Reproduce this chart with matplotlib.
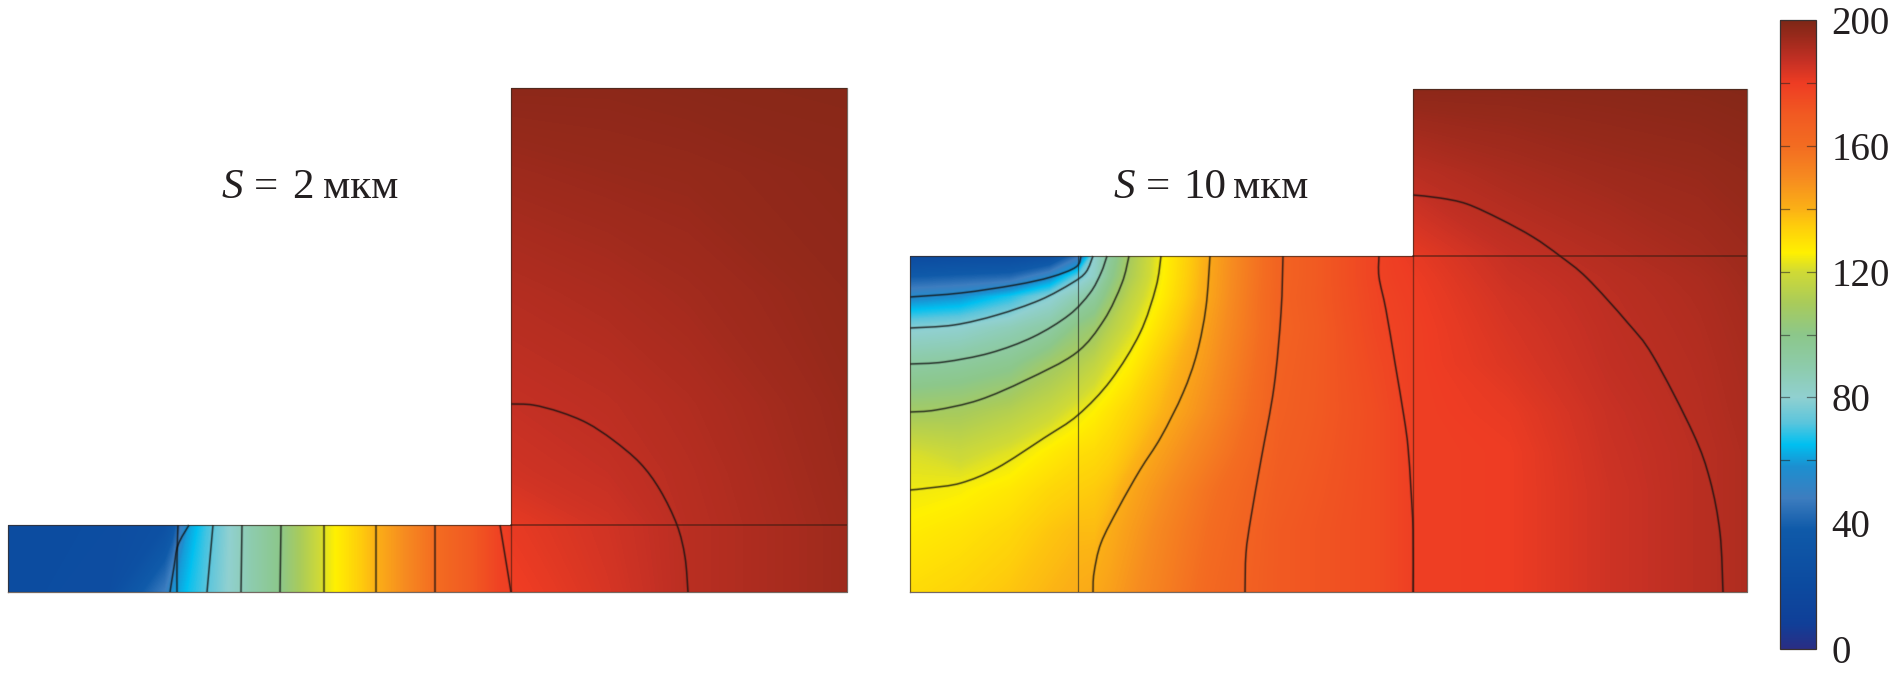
import numpy as np
import matplotlib
matplotlib.use("Agg")
import matplotlib.pyplot as plt
from matplotlib.colors import LinearSegmentedColormap
from matplotlib.path import Path
from matplotlib.patches import PathPatch

W, H = 1892, 673

# colour scale
bar_vals = [0, 8, 20, 38, 48, 58, 65, 72, 80, 90, 100, 110, 120, 126, 135, 140, 150, 160, 170, 180, 187, 195, 200]
bar_cols = ["#2a2d84", "#103f98", "#0c4a9f", "#0f5aa9", "#3d7dbf", "#1c8fd0", "#00c0f0", "#5bc5dc", "#90d0d0",
            "#8dcbaa", "#8cc78a", "#a9cb5a", "#d0da35", "#fff000", "#fecb0c", "#fbb016", "#f68a20", "#f36c21",
            "#f15a22", "#ee3c23", "#c53024", "#98291b", "#7d2716"]
bar_ticks = [0, 40, 80, 120, 160, 200]
bar_marks = [60, 80, 100, 120, 140, 160, 180]

n = np.nan

################ S = 2 ################
x_2 = [0, 102, 157, 165, 181, 199, 205, 233, 272, 316, 368, 427, 492, 503, 600, 680, 839]
y_2 = [0, 67, 120, 188, 300, 420, 504]
t_2 = [
    [22, 24, 48, 58, 66, 72, 74, 85, 100, 122, 140, 160, 178, 179, 184, 189, 194],
    [22, 23, 27, 33, 60, 70, 72, 85, 100, 122, 140, 160, 178, 181, 185, 189, 194],
    [n, n, n, n, n, n, n, n, n, n, n, n, n, 185, 187, 189.5, 194.5],
    [n, n, n, n, n, n, n, n, n, n, n, n, n, 187, 188.5, 190.5, 195],
    [n, n, n, n, n, n, n, n, n, n, n, n, n, 190, 191.5, 193, 196],
    [n, n, n, n, n, n, n, n, n, n, n, n, n, 194, 195, 195.5, 197],
    [n, n, n, n, n, n, n, n, n, n, n, n, n, 197, 197, 197.5, 198],
]
iso_2 = [
    ([162, 166, 170, 181], [0, 25, 47, 67]),
    ([169, 169, 170], [0, 35, 67]),
    ([199, 205], [0, 67]),
    ([233, 234], [0, 67]),
    ([272, 273], [0, 67]),
    ([316, 316], [0, 67]),
    ([368, 368], [0, 67]),
    ([427, 427], [0, 67]),
    ([503, 492], [0, 67]),
    ([503, 525, 552, 579, 605, 632, 652, 669, 677, 680], [188, 187, 180, 169, 152, 129, 102, 67, 35, 0]),
]

################ S = 10 ################
x_10 = [0, 50, 100, 140, 168, 185, 200, 220, 250, 300, 370, 470, 503, 600, 700, 790, 837]
y_10 = [0, 60, 102, 140, 180, 228, 264, 295, 315, 336, 420, 503]
t_10 = [
    [131, 133, 136, 139, 141, 142, 144, 148, 153, 162, 170, 175, 179, 180, 185.5, 189, 191],
    [127, 129, 132, 136, 138, 138, 141, 145, 151, 160, 170, 175, 179, 180, 185.5, 189, 191],
    [124, 125, 128, 132, 134, 135, 137, 142, 148, 158, 169, 175, 179, 180, 185.5, 189, 191],
    [121, 118, 122, 127, 130, 131, 133, 137, 144, 154, 168, 175, 179, 180, 186, 189, 191],
    [108, 109, 113, 118, 123, 126, 129, 133, 139, 150, 167, 175, 179, 181, 186.5, 189.5, 191.5],
    [92, 94, 98, 107, 112, 116, 121, 126, 135, 147, 166, 176, 179, 183, 187.5, 190, 192],
    [78, 80, 86, 92, 102, 106, 113, 120, 130, 145, 165, 177, 179, 184, 188, 190.5, 192.5],
    [55, 58, 67, 78, 88, 94, 104, 115, 126, 143, 165.5, 177.5, 179.5, 185, 188.5, 191, 193],
    [38, 40, 42, 55, 74, 83, 98, 111, 124.5, 142.5, 165, 178, 180, 186, 189, 191.5, 193.5],
    [20, 22, 22, 25, 45, 80, 94, 109, 124, 142, 165, 178, 181, 187, 190, 192.5, 194],
    [n, n, n, n, n, n, n, n, n, n, n, n, 189, 192, 194, 195, 196],
    [n, n, n, n, n, n, n, n, n, n, n, n, 197, 197, 197.5, 198, 198.5],
]
iso_10 = [
    ([0, 51, 105, 141, 166, 171], [295, 299, 307, 315, 325, 336]),
    ([0, 44, 87, 130, 162, 176, 183], [264, 267, 277, 292, 309, 320, 336]),
    ([0, 34, 80, 123, 159, 180, 191, 197], [228, 230, 239, 255, 277, 299, 319, 336]),
    ([0, 26, 69, 116, 166, 194, 212, 219], [180, 182, 192, 212, 239, 272, 309, 336]),
    ([0, 19, 51, 87, 134, 168, 201, 230, 246, 251], [102, 104, 109, 124, 154, 177, 212, 259, 305, 336]),
    ([183, 184, 191, 209, 230, 251, 273, 287, 296, 300], [0, 19, 49, 85, 122, 155, 199, 239, 285, 336]),
    ([335, 336, 341, 351, 364, 371, 373], [0, 39, 75, 132, 205, 279, 336]),
    ([503, 503, 501, 498, 494, 485, 476, 469, 469], [0, 62, 102, 145, 175, 229, 282, 315, 336]),
    ([503, 530, 557, 590, 623, 650, 677, 717, 743, 783, 800, 810, 813],
     [397, 394, 388, 373, 355, 336, 314, 270, 236, 159, 112, 59, 0]),
]

cmap = LinearSegmentedColormap.from_list("temp", [(v / 200, c) for v, c in zip(bar_vals, bar_cols)], N=1024)
levels = np.arange(0, 200.25, 0.25)
norm = plt.Normalize(0, 200)


def px_axes(fig, left, top, right, bottom):
    return fig.add_axes([left / W, 1 - bottom / H, (right - left) / W, (bottom - top) / H])


def smooth_line(ax, ix, iy):
    # courbe lisse qui passe par les points lus (Catmull-Rom -> Bezier)
    p = np.column_stack([ix, iy]).astype(float)
    verts = [p[0]]
    codes = [Path.MOVETO]
    for i in range(len(p) - 1):
        a = p[max(i - 1, 0)]
        b = p[i]
        c = p[i + 1]
        d = p[min(i + 2, len(p) - 1)]
        verts += [b + (c - a) / 6, c - (d - b) / 6, c]
        codes += [Path.CURVE4, Path.CURVE4, Path.CURVE4]
    path = Path(verts, codes)
    ax.add_patch(PathPatch(path, fc="none", ec="#111111", alpha=0.15, lw=2.4, capstyle="butt"))
    ax.add_patch(PathPatch(path, fc="none", ec="#111111", alpha=0.62, lw=1.1, capstyle="butt"))


def draw_panel(ax, xs, ys, t, iso, step_y, div_x, top_y):
    t = np.array(t)
    xs = np.array(xs)
    ys = np.array(ys)
    # la dalle puis le bloc, sinon contourf fait des triangles sur le coin
    low = ys <= step_y
    ax.contourf(xs, ys[low], t[low], levels=levels, cmap=cmap, norm=norm)
    block = xs >= div_x
    ax.contourf(xs[block], ys, t[:, block], levels=levels, cmap=cmap, norm=norm)
    for ix, iy in iso:
        smooth_line(ax, ix, iy)
    right = xs[-1]
    ax.plot([0, 0, div_x, div_x, right, right, 0], [0, step_y, step_y, top_y, top_y, 0, 0],
            color="#3a2a20", alpha=0.7, lw=0.9, clip_on=False)
    ax.plot([div_x, right], [step_y, step_y], color="#3a1a10", alpha=0.6, lw=1.2)
    ax.plot([div_x, div_x], [0, step_y], color="#3a1a10", alpha=0.55, lw=1.0)
    ax.set_xlim(0, right)
    ax.set_ylim(0, top_y)
    ax.axis("off")


fig = plt.figure(figsize=(W / 100, H / 100), dpi=100)

ax1 = px_axes(fig, 8, 88, 847, 592)
draw_panel(ax1, x_2, y_2, t_2, iso_2, 67, 503, 504)

ax2 = px_axes(fig, 910, 89, 1747, 592)
draw_panel(ax2, x_10, y_10, t_10, iso_10, 336, 503, 503)
ax2.plot([168, 168], [0, 336], color="#222222", alpha=0.6, lw=0.9)

# colour bar
cax = px_axes(fig, 1780, 20, 1816, 649)
sm = plt.cm.ScalarMappable(norm=norm, cmap=cmap)
cb = fig.colorbar(sm, cax=cax, ticks=bar_ticks)
cb.ax.tick_params(length=0, pad=11)
cb.outline.set_edgecolor("#3a3030")
cb.outline.set_linewidth(0.9)
for lab in cb.ax.get_yticklabels():
    lab.set_fontfamily("Liberation Serif")
    lab.set_fontsize(28)
    lab.set_color("#231f20")
for v in bar_marks:
    cax.plot([0, 0.24], [v, v], color="#222222", alpha=0.55, lw=0.9, transform=cax.get_yaxis_transform())
    cax.plot([0.76, 1], [v, v], color="#222222", alpha=0.55, lw=0.9, transform=cax.get_yaxis_transform())


def label(parts):
    for x, s, style in parts:
        fig.text(x / W, 1 - 198 / H, s, family="Liberation Serif", style=style, fontsize=31,
                 color="#231f20", ha="left", va="baseline")


label([(221, "S", "italic"), (254, "=", "normal"), (292, "2", "normal"), (323, "мкм", "normal")])
label([(1113, "S", "italic"), (1146, "=", "normal"), (1183, "10", "normal"), (1233, "мкм", "normal")])

fig.savefig("out.png", dpi=100, facecolor="white")
